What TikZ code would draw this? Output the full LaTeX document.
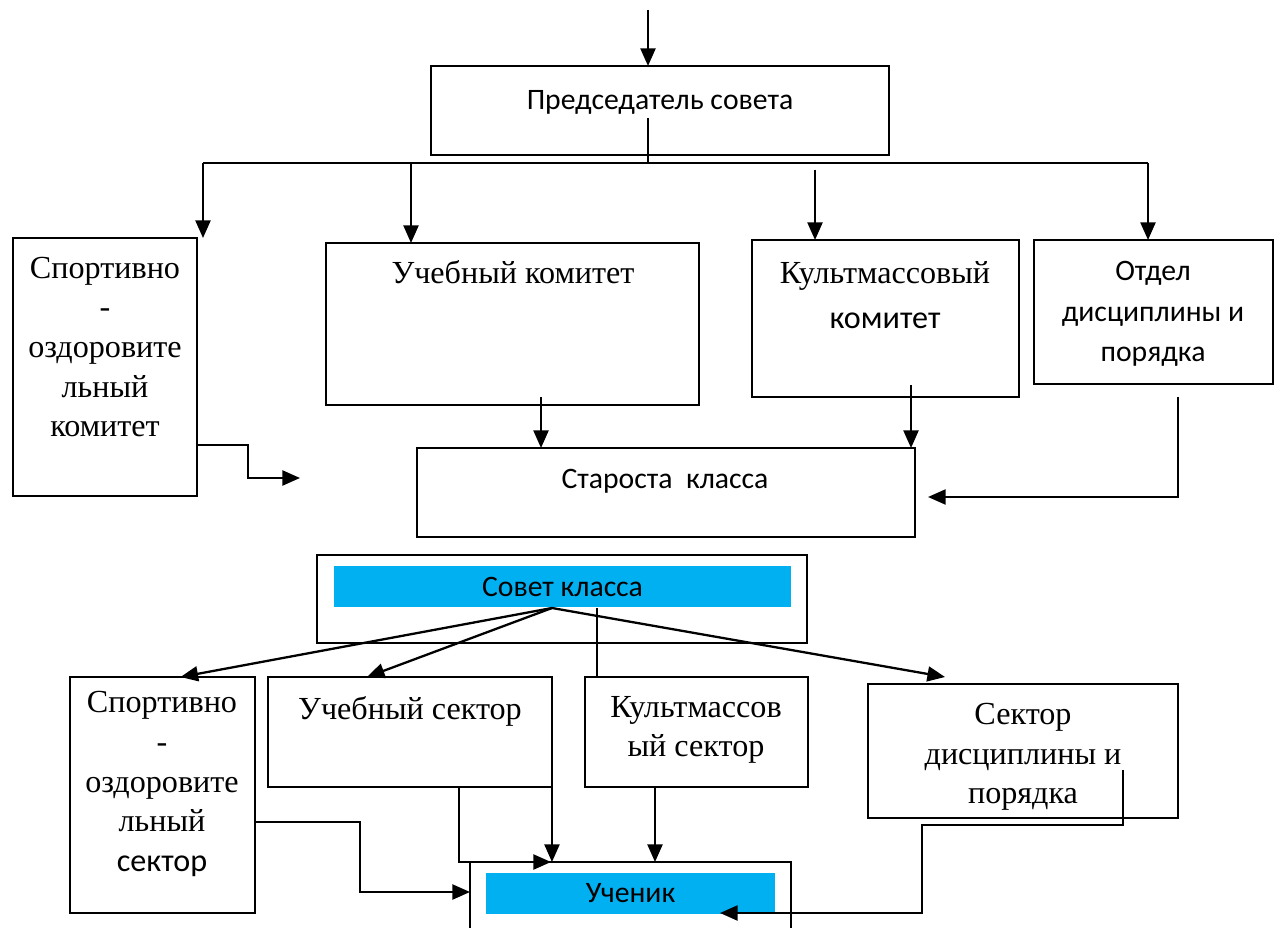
\documentclass[tikz,border=0pt]{standalone}
\usepackage{fontspec}
\setmainfont{Liberation Serif}
\setsansfont{Carlito}
\usetikzlibrary{arrows.meta,calc}
\definecolor{barblue}{RGB}{0,176,240}

\tikzset{
	box/.style n args={2}{draw, line width=1.2pt, inner sep=0pt, outer sep=0pt, minimum width=#1, minimum height=#2},
	bar/.style n args={2}{fill=barblue, inner sep=0pt, outer sep=0pt, minimum width=#1, minimum height=#2, font=\sffamily\fontsize{16.9}{22}\selectfont},
	rmtxt/.style={align=center, inner sep=0pt, font=\rmfamily\fontsize{18.3}{22.5}\selectfont},
	sftxt/.style={align=center, inner sep=0pt, font=\sffamily\fontsize{16.9}{23}\selectfont},
	arr/.style={line width=1.3pt, -{Triangle[length=10pt,width=8.5pt]}},
	lin/.style={line width=1.3pt}
}

\begin{document}
\begin{tikzpicture}[x=0.02cm, y=-0.02cm]
			%%%%% START %%%%%
			\path[use as bounding box, fill=white] (0,0) rectangle (1283,928);
			
			% council chairman
			\node[box={9.16cm}{1.78cm}] (pred) at (660,110.5) {};
			\node[sftxt] (predtxt) at (660,102) {Председатель совета};
			\coordinate (top) at (648,10);
			\draw[arr] (top) -- (top |- pred.north);
			
			% committees
			\node[box={3.68cm}{5.16cm}] (sportk) at (105,367) {};
			\node[rmtxt] (sportktxt) at (105,347) {Спортивно\\-\\оздоровите\\льный\\комитет};
			\node[box={7.46cm}{3.24cm}] (uchk) at (512.5,324) {};
			\node[rmtxt] (uchktxt) at (513,272) {Учебный комитет};
			\node[box={5.34cm}{3.14cm}] (kultk) at (885.5,318.5) {};
			\node[rmtxt] (kultktxt) at (885,295) {Культмассовый\\[3pt]\sffamily комитет};
			\node[box={4.78cm}{2.88cm}] (otdel) at (1153.5,312) {};
			\node[sftxt] (otdeltxt) at (1153,314) {Отдел\\дисциплины и\\порядка};
			
			\coordinate (stem) at (648,118);
			\coordinate (busl) at (203,163);
			\coordinate (busr) at (1148,163);
			\draw[lin] (stem) -- (stem |- busl);
			\draw[lin] (busl) -- (busr);
			\draw[arr] (busl) -- (busl |- sportk.north);
			\coordinate (b2) at (411,163);
			\draw[arr] (b2) -- (b2 |- uchk.north);
			\coordinate (b3) at (815,170);
			\draw[arr] (b3) -- (b3 |- kultk.north);
			\draw[arr] (busr) -- (busr |- otdel.north);
			
			% class head
			\node[box={9.96cm}{1.78cm}] (star) at (666,492.5) {};
			\node[sftxt] (startxt) at (665,481) {Староста\ \ класса};
			
			\coordinate (ua) at (541,397);
			\draw[arr] (ua) -- (ua |- star.north);
			\coordinate (ka) at (911,385);
			\draw[arr] (ka) -- (ka |- star.north);
			\coordinate (oa) at (1178,397);
			\coordinate (oe) at (928,497);
			\draw[arr] (oa) |- (oe);
			\coordinate (se) at (300,478);
			\draw[arr] ($(sportk.east)+(0,78)$) -| (248,478) -- (se);
			
			% class council
			\node[box={9.8cm}{1.76cm}] (sovet) at (562,599) {};
			\node[bar={9.14cm}{0.82cm}] (sovetbar) at (562.5,586.5) {Совет класса};
			
			% sectors
			\node[box={3.7cm}{4.72cm}] (sports) at (162.5,795) {};
			\node[rmtxt] (sportstxt) at (162,784) {Спортивно\\-\\оздоровите\\льный\\\sffamily сектор};
			\node[box={5.68cm}{2.2cm}] (uchs) at (410,732) {};
			\node[rmtxt] (uchstxt) at (410,711) {Учебный сектор};
			\node[box={4.46cm}{2.2cm}] (kults) at (696.5,732) {};
			\node[rmtxt] (kultstxt) at (696,730) {Культмассов\\ый сектор};
			\node[box={6.2cm}{2.68cm}] (sekt) at (1023,751) {};
			\node[rmtxt] (sekttxt) at (1023,757) {Сектор\\дисциплины и\\порядка};
			
			\coordinate (hub) at (552,608);
			\draw[arr] (hub) -- ($(sports.north)+(18,0)$);
			\draw[arr] (hub) -- ($(uchs.north)+(-43,0)$);
			\draw[arr] (hub) -- (945,677);
			\coordinate (kv) at (597,608);
			\draw[lin] (kv) -- (kv |- kults.north);
			
			% pupil
			\node[box={6.42cm}{1.8cm}] (uch) at (630.5,907) {};
			\node[bar={5.78cm}{0.82cm}] (uchbar) at (630.5,893.5) {Ученик};
			
			\coordinate (us) at (459,787);
			\draw[arr] (us) |- (551,862);
			\draw[arr] (uchs.south east) -- (uchs.south east |- uch.north);
			\coordinate (ks) at (655,787);
			\draw[arr] (ks) -- (ks |- uch.north);
			\coordinate (sp) at (255,822);
			\coordinate (ul) at (470,892);
			\draw[arr] (sp) -| (360,892) -- (ul);
			\coordinate (sk) at (1123,770);
			\coordinate (ue) at (720,913);
			\draw[arr] (sk) |- (922,825) -- (922,913) -- (ue);
			%%%%% END %%%%%
\end{tikzpicture}
\end{document}
